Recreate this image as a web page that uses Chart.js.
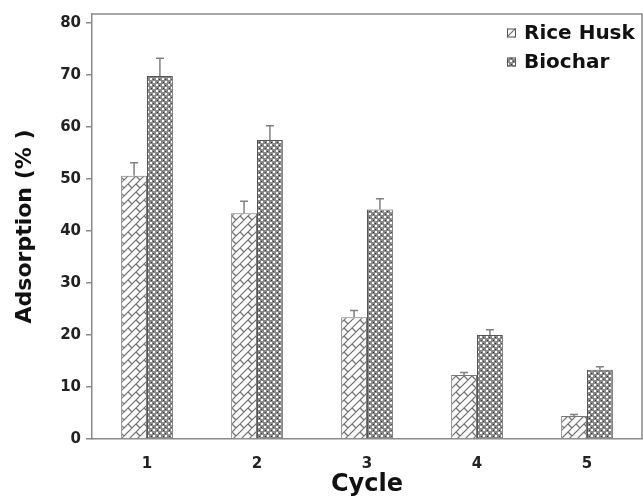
<!DOCTYPE html>
<html><head><meta charset="utf-8">
<script src="https://cdn.jsdelivr.net/npm/chart.js@4.4.0/dist/chart.umd.min.js"></script>
<style>html,body{margin:0;padding:0;background:#fff;overflow:hidden}#wrap{width:643px;height:499px}</style>
</head><body><div id="wrap"><canvas id="c" width="643" height="499"></canvas></div>
<script>
const categories = ['1', '2', '3', '4', '5'];
const riceHusk = [50.6, 43.4, 23.4, 12.3, 4.4];
const riceHuskErr = [2.5, 2.3, 1.3, 0.5, 0.3];
const biochar = [69.8, 57.5, 44.1, 20.0, 13.3];
const biocharErr = [3.4, 2.7, 2.1, 1.0, 0.6];
const yTicks = [0, 10, 20, 30, 40, 50, 60, 70, 80];
const seriesNames = ['Rice Husk', 'Biochar'];

const FONT = "'DejaVu Sans', 'Liberation Sans', Arial, sans-serif";

function hatchPattern() {
  const s = 16, c = document.createElement('canvas');
  c.width = s; c.height = s;
  const g = c.getContext('2d');
  g.fillStyle = '#fafafa'; g.fillRect(0, 0, s, s);
  g.strokeStyle = '#707070'; g.lineWidth = 1.2;
  g.beginPath();
  for (let k = 0; k <= 32; k += 8) { g.moveTo(k + 1, -1); g.lineTo(-1, k + 1); }
  g.moveTo(8, 8); g.lineTo(12, 12);
  g.moveTo(0, 8); g.lineTo(4, 12);
  g.moveTo(8, 0); g.lineTo(12, 4);
  g.stroke();
  return g.createPattern(c, 'repeat');
}
function dotPattern() {
  const s = 6, c = document.createElement('canvas');
  c.width = s; c.height = s;
  const g = c.getContext('2d');
  g.fillStyle = '#8a8a8a'; g.fillRect(0, 0, s, s);
  g.fillStyle = '#ffffff';
  g.fillRect(0, 0, 2, 2); g.fillRect(3, 3, 2, 2);
  g.fillStyle = '#333333';
  g.fillRect(3, 1, 1, 1); g.fillRect(1, 4, 1, 1);
  return g.createPattern(c, 'repeat');
}
const pats = [hatchPattern(), dotPattern()];
const errs = [riceHuskErr, biocharErr];

const errorBars = {
  id: 'errorBars',
  afterDatasetsDraw(chart) {
    const ctx = chart.ctx, y = chart.scales.y;
    ctx.save();
    ctx.strokeStyle = '#808080'; ctx.lineWidth = 1.5;
    chart.data.datasets.forEach((ds, di) => {
      const meta = chart.getDatasetMeta(di);
      meta.data.forEach((bar, i) => {
        const top = y.getPixelForValue(ds.data[i] + errs[di][i]);
        ctx.beginPath();
        ctx.moveTo(bar.x, bar.y); ctx.lineTo(bar.x, top);
        ctx.moveTo(bar.x - 4, top); ctx.lineTo(bar.x + 4, top);
        ctx.stroke();
      });
    });
    ctx.restore();
  }
};
const frameLegend = {
  id: 'frameLegend',
  afterDraw(chart) {
    const ctx = chart.ctx, a = chart.chartArea;
    ctx.save();
    ctx.strokeStyle = '#8a8a8a'; ctx.lineWidth = 1.5;
    ctx.beginPath();
    ctx.moveTo(a.left, a.top); ctx.lineTo(a.right, a.top); ctx.lineTo(a.right, a.bottom);
    ctx.stroke();
    chart.data.datasets.forEach((ds, di) => {
      const ly = 33 + di * 29;
      const bx = 507, bs = 9;
      ctx.fillStyle = pats[di];
      ctx.fillRect(bx, ly - bs / 2, bs, bs);
      ctx.strokeStyle = '#555'; ctx.lineWidth = 1;
      ctx.strokeRect(bx + 0.5, ly - bs / 2 + 0.5, bs - 1, bs - 1);
      ctx.fillStyle = '#111';
      ctx.font = "bold 20px " + FONT;
      ctx.textBaseline = 'middle'; ctx.textAlign = 'left';
      ctx.fillText(ds.label, 524, ly + 1);
    });
    ctx.restore();
  }
};

new Chart(document.getElementById('c'), {
  type: 'bar',
  data: {
    labels: categories,
    datasets: [
      { label: seriesNames[0], data: riceHusk, backgroundColor: pats[0], borderColor: '#777', borderWidth: 1 },
      { label: seriesNames[1], data: biochar, backgroundColor: pats[1], borderColor: '#555', borderWidth: 1 }
    ]
  },
  options: {
    responsive: false,
    animation: false,
    layout: { padding: { left: 0, right: 1, top: 12, bottom: 0 } },
    plugins: { legend: { display: false }, tooltip: { enabled: false } },
    datasets: { bar: { categoryPercentage: 0.47, barPercentage: 1 } },
    scales: {
      x: {
        grid: { display: false, drawTicks: false },
        border: { display: true, color: '#8a8a8a', width: 1.5 },
        ticks: { color: '#222', font: { family: FONT, weight: 'bold', size: 15 }, padding: 16, maxRotation: 0 },
        title: { display: true, text: 'Cycle', color: '#111', font: { family: FONT, weight: 'bold', size: 24 }, padding: { top: 0, bottom: 0 } },
        afterFit(s) { s.height = 60; }
      },
      y: {
        min: 0, max: 81.7,
        afterBuildTicks(s) { s.ticks = yTicks.map(v => ({ value: v })); },
        grid: { display: true, drawOnChartArea: false, drawTicks: true, tickLength: 6, color: '#8a8a8a', lineWidth: 1.5 },
        border: { display: true, color: '#8a8a8a', width: 1.5 },
        ticks: { color: '#222', font: { family: FONT, weight: 'bold', size: 15 }, padding: 5 },
        title: { display: true, text: 'Adsorption (% )', color: '#111', font: { family: FONT, weight: 'bold', size: 22 }, padding: { top: 12, bottom: 0 } },
        afterFit(s) { s.width = 92; }
      }
    }
  },
  plugins: [errorBars, frameLegend]
});
</script></body></html>
